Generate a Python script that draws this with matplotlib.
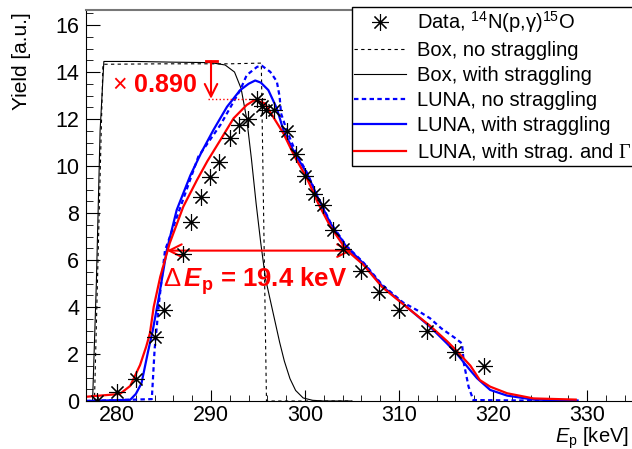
import matplotlib
matplotlib.use("Agg")
import matplotlib.pyplot as plt
from matplotlib.ticker import MultipleLocator

plt.rcParams['font.family'] = ['Liberation Sans', 'DejaVu Sans']
plt.rcParams['mathtext.fontset'] = 'custom'
plt.rcParams['mathtext.rm'] = 'Liberation Sans'
plt.rcParams['mathtext.it'] = 'Liberation Sans:italic'
plt.rcParams['mathtext.bf'] = 'Liberation Sans:bold'
plt.rcParams['mathtext.bfit'] = 'Liberation Sans:italic:bold'
plt.rcParams['mathtext.tt'] = 'Liberation Serif'

# measured yield, 14N(p,g)15O
data_E = [277.9, 280.0, 282.0, 284.0, 285.0, 287.0, 287.9, 288.9, 289.9, 290.9,
          292.0, 293.0, 293.9, 294.9, 295.4, 295.9, 296.7, 298.1, 299.0, 300.0,
          301.0, 301.9, 303.0, 304.0, 306.0, 307.9, 310.0, 313.0, 316.0, 319.0]
data_Y = [0.0, 0.38, 0.94, 2.72, 3.87, 6.25, 7.62, 8.70, 9.55, 10.19,
          11.18, 11.74, 12.0, 12.86, 12.55, 12.4, 12.4, 11.5, 10.5, 9.56,
          8.82, 8.34, 7.28, 6.47, 5.52, 4.63, 3.87, 3.0, 2.1, 1.49]

# box profile, no straggling
box_E = [276.7, 277.6, 278.5, 285.0, 292.0, 295.35, 295.9, 305.0]
box_Y = [0.0, 0.0, 14.33, 14.35, 14.35, 14.38, 0.0, 0.0]

# box profile, with straggling
boxs_E = [276.7, 277.4, 277.8, 278.2, 278.6, 282.0, 286.0, 290.0, 291.5, 292.5,
          293.2, 293.8, 294.3, 294.8, 295.3, 295.8, 296.3, 296.8, 297.3, 297.8,
          298.4, 299.0, 299.8, 300.8, 302.0, 305.0]
boxs_Y = [0.0, 0.0, 5.0, 11.5, 14.45, 14.45, 14.42, 14.4, 14.3, 14.0,
          13.3, 12.0, 10.3, 8.4, 6.7, 5.2, 4.3, 3.4, 2.5, 1.7,
          0.95, 0.45, 0.13, 0.03, 0.0, 0.0]

# LUNA profile, no straggling
luna_E = [276.7, 283.7, 284.0, 284.5, 285.1, 286.7, 288.65, 291.0, 293.1, 293.8,
          294.9, 295.4, 296.3, 297.0, 297.3, 297.45, 298.05, 299.0, 300.2, 301.4,
          302.7, 304.4, 306.2, 308.2, 310.4, 311.9, 313.3, 314.5, 316.0, 316.7,
          316.9, 317.4, 317.9, 329.0]
luna_Y = [0.0, 0.08, 2.2, 4.3, 6.4, 8.2, 10.4, 11.75, 13.23, 13.87,
          14.22, 14.27, 14.01, 13.6, 12.95, 12.24, 11.53, 10.6, 9.72, 8.66,
          7.6, 6.6, 5.9, 4.95, 4.2, 3.87, 3.52, 3.09, 2.67, 2.45,
          1.6, 0.61, 0.04, 0.0]

# LUNA profile, with straggling
lunas_E = [276.7, 281.4, 282.0, 282.6, 283.3, 283.8, 284.4, 285.3, 286.35, 287.8,
           289.0, 290.25, 291.7, 293.1, 294.0, 294.7, 295.3, 296.1, 297.0, 297.7,
           298.9, 300.2, 301.4, 302.7, 304.4, 306.2, 308.2, 310.8, 313.3, 315.1,
           316.1, 317.55, 318.3, 319.7, 321.5, 324.3, 329.0]
lunas_Y = [0.0, 0.05, 0.3, 0.75, 2.1, 3.0, 4.3, 6.43, 8.13, 9.6,
           10.6, 11.53, 12.52, 13.23, 13.5, 13.64, 13.55, 13.23, 12.45, 11.53,
           10.54, 9.69, 8.63, 7.56, 6.57, 5.86, 4.9, 4.01, 3.16, 2.45,
           2.03, 1.32, 0.97, 0.47, 0.23, 0.06, 0.02]

# LUNA profile, with straggling and resonance width
lunag_E = [276.7, 280.3, 281.4, 282.45, 283.1, 283.5, 283.9, 284.6, 285.6, 287.05,
           288.5, 289.6, 291.0, 292.4, 293.8, 294.6, 295.7, 296.6, 297.7, 298.9,
           300.2, 301.4, 302.7, 304.4, 306.2, 308.2, 310.8, 313.3, 315.1, 316.1,
           317.6, 318.6, 319.7, 321.5, 324.3, 328.8]
lunag_Y = [0.18, 0.3, 0.64, 1.53, 2.31, 2.88, 4.0, 5.29, 6.71, 8.27,
           9.4, 10.2, 11.11, 12.03, 12.6, 12.8, 12.67, 12.1, 11.39, 10.4,
           9.48, 8.41, 7.42, 6.43, 5.8, 4.85, 4.0, 3.2, 2.55, 2.15,
           1.5, 0.89, 0.61, 0.33, 0.11, 0.06]

box_top = 14.45
scale = 0.890
fwhm_lo, fwhm_hi, fwhm_y = 285.3, 305.0, 6.4

labels = [r'Data, $^{14}$N(p,γ)$^{15}$O', 'Box, no straggling', 'Box, with straggling',
          'LUNA, no straggling', 'LUNA, with straggling', r'LUNA, with strag. and $\mathtt{\Gamma}$']

fig = plt.figure(figsize=(6.32, 4.49), dpi=100)
ax = fig.add_axes([86/632, 48/449, (681-86)/632, 391/449])

red = '#ff0000'
blue = '#0000ff'

h1, = ax.plot(data_E, data_Y, ls='none', marker=(8, 2, 0), ms=12, mew=0.8, color='black', zorder=5)
h2, = ax.plot(box_E, box_Y, color='black', lw=0.8, ls=(0, (3, 3)))
h3, = ax.plot(boxs_E, boxs_Y, color='black', lw=0.8)
h4, = ax.plot(luna_E, luna_Y, color=blue, lw=1.6, ls=(0, (2, 1.5)))
h5, = ax.plot(lunas_E, lunas_Y, color=blue, lw=1.6)
h6, = ax.plot(lunag_E, lunag_Y, color=red, lw=1.6)

# scale arrow
ax.plot([289.45, 290.6], [box_top, box_top], color=red, lw=2)
ax.annotate('', xy=(290.0, box_top * scale), xytext=(290.0, box_top),
            arrowprops=dict(arrowstyle='->,head_length=0.6,head_width=0.3', color=red,
                            lw=1.5, mutation_scale=15, shrinkA=0, shrinkB=0))
ax.plot([289.7, 296.0], [box_top * scale] * 2, color=red, lw=1, ls=':')
ax.text(279.5, 13.45, r'$\times$ 0.890', color=red, fontsize=18, fontweight='bold', va='center')

# width arrow
ax.annotate('', xy=(fwhm_lo, fwhm_y), xytext=(fwhm_hi, fwhm_y),
            arrowprops=dict(arrowstyle='<->,head_length=0.6,head_width=0.3', color=red,
                            lw=1.5, mutation_scale=15, shrinkA=0, shrinkB=0))
ax.text(284.9, 4.85, r'$\Delta\,\mathbfit{E}_{\mathbf{p}}$ = 19.4 keV', color=red,
        fontsize=18.5, fontweight='bold', va='baseline')

ax.set_xlim(276.7, 340)
ax.set_ylim(0, 16.64)
ax.xaxis.set_major_locator(MultipleLocator(10))
ax.xaxis.set_minor_locator(MultipleLocator(2))
ax.yaxis.set_major_locator(MultipleLocator(2))
ax.yaxis.set_minor_locator(MultipleLocator(0.5))
ax.tick_params(which='both', direction='in', top=False, right=False, labelsize=15.5)
ax.tick_params(axis='x', which='major', length=8, pad=3)
ax.tick_params(axis='x', which='minor', length=4)
ax.tick_params(axis='y', which='major', length=10, pad=5)
ax.tick_params(axis='y', which='minor', length=5)
ax.spines['right'].set_visible(False)
ax.spines['top'].set_color('#777777')
ax.spines['top'].set_linewidth(1.5)

fig.text(22/632, 1 - 12/449, 'Yield [a.u.]', rotation=90, ha='center', va='top', fontsize=15)
fig.text(629/632, 6/449, r'$\mathit{E}_{\mathrm{p}}$ [keV]', ha='right', va='baseline', fontsize=14.5)

leg = ax.legend([h1, h2, h3, h4, h5, h6], labels, loc='upper left',
                bbox_to_anchor=(352/632, 1 - 7/449), bbox_transform=fig.transFigure,
                frameon=True, fancybox=False, edgecolor='black', framealpha=1,
                fontsize=14.5, handlelength=2.6, handletextpad=0.55, labelspacing=0.3,
                borderpad=0.1, borderaxespad=0, numpoints=1)
leg.get_frame().set_linewidth(1)

fig.savefig('out.png', dpi=100)
